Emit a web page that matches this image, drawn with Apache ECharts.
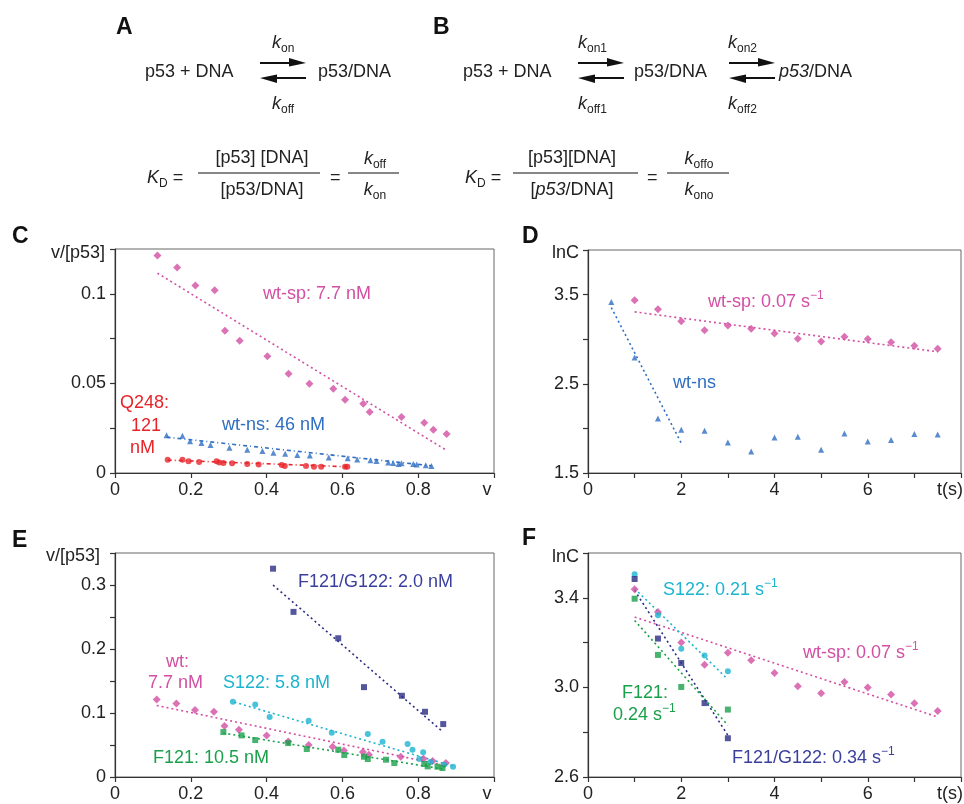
<!DOCTYPE html>
<html><head><meta charset="utf-8">
<script src="https://cdn.jsdelivr.net/npm/echarts@6/dist/echarts.min.js"></script>
<style>html,body{margin:0;padding:0;background:#fff}#c{width:964px;height:804px}</style>
</head><body><div id="c"></div>
<script>
// ---------- DATA ----------
// Panel C (Scatchard plot)
const wtSpC_x = [0.112,0.164,0.212,0.263,0.290,0.329,0.402,0.458,0.513,0.576,0.607,0.655,0.672,0.756,0.816,0.840,0.875];
const wtSpC_y = [0.1214,0.1147,0.1046,0.1020,0.0794,0.0738,0.0651,0.0554,0.0498,0.0470,0.0409,0.0387,0.0340,0.0312,0.0281,0.0242,0.0217];
const wtNsC_x = [0.136,0.178,0.198,0.228,0.252,0.302,0.349,0.389,0.418,0.449,0.481,0.514,0.564,0.614,0.639,0.674,0.690,0.721,0.734,0.748,0.756,0.787,0.796,0.820,0.835];
const wtNsC_y = [0.0210,0.0208,0.0177,0.0167,0.0156,0.0141,0.0130,0.0123,0.0113,0.0108,0.0100,0.0097,0.0087,0.0082,0.0076,0.0071,0.0067,0.0059,0.0056,0.0050,0.0054,0.0050,0.0048,0.0043,0.0039];
const q248C_x = [0.139,0.178,0.194,0.222,0.268,0.275,0.286,0.309,0.349,0.379,0.440,0.448,0.504,0.525,0.544,0.607,0.613];
const q248C_y = [0.0074,0.0074,0.0065,0.0061,0.0065,0.0058,0.0056,0.0054,0.0050,0.0048,0.0045,0.0039,0.0039,0.0035,0.0035,0.0035,0.0035];
const wtSpFitC = [[0.112,0.1115],[0.875,0.0126]];
const wtNsFitC = [[0.136,0.0200],[0.835,0.0040]];
const q248FitC = [[0.139,0.0072],[0.610,0.0035]];
// Panel D (dissociation, lnC vs t)
const wtSpD_t = [1,1.5,2,2.5,3,3.5,4,4.5,5,5.5,6,6.5,7,7.5];
const wtSpD_y = [3.437,3.336,3.202,3.101,3.154,3.116,3.064,3.005,2.975,3.027,3.001,2.967,2.926,2.893];
const wtNsD_t = [0.5,1,1.5,2,2.5,3,3.5,4,4.5,5,5.5,6,6.5,7,7.5];
const wtNsD_y = [3.418,2.796,2.111,1.984,1.973,1.843,1.742,1.899,1.906,1.761,1.943,1.854,1.869,1.936,1.932];
const wtSpFitD = [[1,3.306],[7.5,2.859]];
const wtNsFitD = [[0.5,3.355],[2,1.835]];
// Panel E (Scatchard, mutants)
const f121g122E_x = [0.417,0.471,0.589,0.657,0.757,0.818,0.866];
const f121g122E_y = [0.3255,0.258,0.2168,0.1404,0.1269,0.1019,0.0827];
const wtE_x = [0.110,0.162,0.211,0.261,0.289,0.327,0.400,0.457,0.511,0.574,0.604,0.654,0.670,0.754,0.814,0.838,0.873];
const wtE_y = [0.1212,0.1149,0.1045,0.1019,0.0796,0.0738,0.0650,0.0556,0.0499,0.0473,0.0416,0.0390,0.0348,0.0317,0.0286,0.0250,0.0218];
const s122E_x = [0.311,0.370,0.408,0.511,0.572,0.667,0.706,0.772,0.785,0.803,0.813,0.832,0.868,0.892];
const s122E_y = [0.1175,0.1134,0.0936,0.0879,0.0692,0.0671,0.0551,0.0515,0.0426,0.0281,0.0385,0.0234,0.0192,0.0161];
const f121E_x = [0.286,0.334,0.370,0.457,0.506,0.589,0.605,0.657,0.667,0.715,0.737,0.816,0.825,0.851,0.864];
const f121E_y = [0.0702,0.0650,0.0577,0.0530,0.0437,0.0426,0.0343,0.0317,0.0281,0.0270,0.0218,0.0203,0.0166,0.0161,0.0140];
const f121g122FitE = [[0.417,0.300],[0.866,0.070]];
const wtFitE = [[0.110,0.1118],[0.873,0.0177]];
const s122FitE = [[0.315,0.1170],[0.892,0.0170]];
const f121FitE = [[0.286,0.0686],[0.864,0.0125]];
// Panel F (dissociation, mutants)
const s122F_t = [1,1.5,2,2.5,3];
const s122F_y = [3.505,3.322,3.173,3.142,3.072];
const f121g122F_t = [1,1.5,2,2.5,3];
const f121g122F_y = [3.484,3.218,3.109,2.930,2.773];
const wtSpF_t = [1,1.5,2,2.5,3,3.5,4,4.5,5,5.5,6,6.5,7,7.5];
const wtSpF_y = [3.438,3.337,3.201,3.101,3.155,3.121,3.064,3.005,2.974,3.024,3.000,2.968,2.929,2.895];
const f121F_t = [1,1.5,2,3];
const f121F_y = [3.396,3.145,3.002,2.901];
const s122FitF = [[1,3.441],[2.95,3.046]];
const f121g122FitF = [[1,3.433],[3,2.786]];
const wtSpFitF = [[1,3.314],[7.5,2.868]];
const f121FitF = [[1,3.299],[3,2.831]];

// ---------- STYLE ----------
const FONT = '"Liberation Sans", Arial, Helvetica, sans-serif';
const MAG = '#d24fa3', BLUE = '#2f6ec2', RED = '#e8242b', NAVY = '#2b2d84', NAVYT = '#3a3f9e', CYAN = '#1cb4d0', GREEN = '#1aa04b';
const AX = '#333';

const zip = (a, b) => a.map((v, i) => [v, b[i]]);
const r3 = v => Math.round(v * 10000) / 10000;
const isMul = (v, s, off) => { const q = (v - off) / s; return Math.abs(q - Math.round(q)) < 1e-6; };

function xAxis(gi, min, max, interval, fmt) {
  return { type: 'value', gridIndex: gi, min, max, interval,
    axisLine: { show: true, onZero: false, lineStyle: { color: AX, width: 1.2 } },
    axisTick: { show: true, inside: false, length: 5, lineStyle: { color: AX, width: 1.2 } },
    axisLabel: { margin: 8, fontSize: 18, color: '#222', fontFamily: FONT, formatter: fmt, showMaxLabel: true, showMinLabel: true, hideOverlap: false },
    splitLine: { show: false } };
}
function yAxis(gi, min, max, interval, fmt) {
  return { type: 'value', gridIndex: gi, min, max, interval,
    axisLine: { show: true, onZero: false, lineStyle: { color: AX, width: 1.2 } },
    axisTick: { show: true, inside: false, length: 5, lineStyle: { color: AX, width: 1.2 } },
    axisLabel: { margin: 9, fontSize: 18, color: '#222', fontFamily: FONT, formatter: fmt, showMaxLabel: true, showMinLabel: true, hideOverlap: false },
    splitLine: { show: false } };
}
const fmtV = v => { v = r3(v); return (v < 0.99 && isMul(v, 0.2, 0)) ? String(v) : ''; };
const fmtT = v => { v = r3(v); return (v < 7.9 && isMul(v, 2, 0)) ? String(v) : ''; };

function scat(xi, data, symbol, size, color) {
  return { type: 'scatter', xAxisIndex: xi, yAxisIndex: xi, data, symbol, symbolSize: size,
    itemStyle: { color }, z: 3, silent: true };
}
function fit(xi, data, color, dash) {
  return { type: 'line', xAxisIndex: xi, yAxisIndex: xi, data, symbol: 'none', silent: true, z: 2,
    lineStyle: { color, width: 1.6, type: dash || [2, 3] } };
}

// ---------- GRAPHIC TEXT HELPERS ----------
const RICH = {
  n: { fontSize: 18, fontFamily: FONT, lineHeight: 24, verticalAlign: 'middle' },
  i: { fontSize: 18, fontFamily: FONT, fontStyle: 'italic', lineHeight: 24, verticalAlign: 'middle' },
  sub: { fontSize: 12, fontFamily: FONT, lineHeight: 14, verticalAlign: 'bottom' },
  sup: { fontSize: 12, fontFamily: FONT, lineHeight: 14, verticalAlign: 'top' }
};
function T(x, y, text, color, opts) {
  opts = opts || {};
  return { type: 'text', x, y, silent: true, z: 10,
    style: { text, fill: color || '#222', fontSize: opts.size || 18, fontFamily: FONT,
      fontWeight: opts.bold ? 'bold' : 'normal', fontStyle: opts.italic ? 'italic' : 'normal',
      textAlign: opts.align || 'left', textVerticalAlign: 'middle', verticalAlign: 'middle', rich: RICH } };
}
function L(x1, y1, x2, y2, w) {
  return { type: 'line', silent: true, shape: { x1, y1, x2, y2 }, style: { stroke: '#111', lineWidth: w || 1.2 } };
}
function arrowR(x1, x2, y) {
  return [L(x1, y, x2 - 8, y, 2), { type: 'polygon', silent: true, shape: { points: [[x2 - 17, y - 5], [x2, y], [x2 - 17, y + 3.5]] }, style: { fill: '#111' } }];
}
function arrowL(x1, x2, y) {
  return [L(x1 + 8, y, x2, y, 2), { type: 'polygon', silent: true, shape: { points: [[x1 + 17, y - 3.5], [x1, y], [x1 + 17, y + 5]] }, style: { fill: '#111' } }];
}

const graphics = [
  // Panel A
  T(116, 28, 'A', '#111', { bold: true, size: 23 }),
  T(145, 72, 'p53 + DNA'),
  ...arrowR(260, 306, 63), ...arrowL(260, 306, 78),
  T(272, 43, '{i|k}{sub|on}'),
  T(272, 104, '{i|k}{sub|off}'),
  T(318, 72, 'p53/DNA'),
  T(147, 178, '{i|K}{sub|D}{n| =}'),
  T(262, 158, '[p53] [DNA]', '#222', { align: 'center' }),
  L(198, 173, 320, 173, 1.2),
  T(262, 190, '[p53/DNA]', '#222', { align: 'center' }),
  T(330, 178, '='),
  T(375, 159, '{i|k}{sub|off}', '#222', { align: 'center' }),
  L(348, 173, 399, 173, 1.2),
  T(375, 190, '{i|k}{sub|on}', '#222', { align: 'center' }),
  // Panel B
  T(433, 28, 'B', '#111', { bold: true, size: 23 }),
  T(463, 72, 'p53 + DNA'),
  ...arrowR(578, 624, 63), ...arrowL(578, 624, 78),
  T(578, 43, '{i|k}{sub|on1}'),
  T(578, 104, '{i|k}{sub|off1}'),
  T(634, 72, 'p53/DNA'),
  ...arrowR(729, 775, 63), ...arrowL(729, 775, 78),
  T(728, 43, '{i|k}{sub|on2}'),
  T(728, 104, '{i|k}{sub|off2}'),
  T(779, 72, '{i|p53}{n|/DNA}'),
  T(465, 178, '{i|K}{sub|D}{n| =}'),
  T(572, 158, '[p53][DNA]', '#222', { align: 'center' }),
  L(513, 173, 638, 173, 1.2),
  T(572, 190, '{n|[}{i|p53}{n|/DNA]}', '#222', { align: 'center' }),
  T(647, 178, '='),
  T(699, 159, '{i|k}{sub|offo}', '#222', { align: 'center' }),
  L(667, 173, 729, 173, 1.2),
  T(699, 190, '{i|k}{sub|ono}', '#222', { align: 'center' }),
  // Panel C
  T(12, 237, 'C', '#111', { bold: true, size: 23 }),
  T(105, 253, 'v/[p53]', '#222', { align: 'right' }),
  T(487, 490, 'v', '#222', { align: 'center' }),
  T(263, 294, 'wt-sp: 7.7 nM', MAG),
  T(222, 425, 'wt-ns: 46 nM', BLUE),
  T(120, 403, 'Q248:', RED),
  T(131, 426, '121', RED),
  T(130, 448, 'nM', RED),
  // Panel D
  T(522, 237, 'D', '#111', { bold: true, size: 23 }),
  T(579, 253, 'lnC', '#222', { align: 'right' }),
  T(950, 490, 't(s)', '#222', { align: 'center' }),
  T(708, 302, '{n|wt-sp: 0.07 s}{sup|−1}', MAG),
  T(673, 383, 'wt-ns', BLUE),
  // Panel E
  T(12, 541, 'E', '#111', { bold: true, size: 23 }),
  T(100, 556, 'v/[p53]', '#222', { align: 'right' }),
  T(487, 794, 'v', '#222', { align: 'center' }),
  T(298, 582, 'F121/G122: 2.0 nM', NAVYT),
  T(166, 662, 'wt:', MAG),
  T(148, 683, '7.7 nM', MAG),
  T(223, 683, 'S122: 5.8 nM', CYAN),
  T(153, 758, 'F121: 10.5 nM', GREEN),
  // Panel F
  T(522, 539, 'F', '#111', { bold: true, size: 23 }),
  T(579, 557, 'lnC', '#222', { align: 'right' }),
  T(950, 794, 't(s)', '#222', { align: 'center' }),
  T(663, 590, '{n|S122: 0.21 s}{sup|−1}', CYAN),
  T(803, 653, '{n|wt-sp: 0.07 s}{sup|−1}', MAG),
  T(622, 693, 'F121:', GREEN),
  T(613, 715, '{n|0.24 s}{sup|−1}', GREEN),
  T(732, 758, '{n|F121/G122: 0.34 s}{sup|−1}', NAVYT)
];

const chart = echarts.init(document.getElementById('c'), null, { renderer: 'canvas' });
chart.setOption({
  animation: false,
  backgroundColor: '#fff',
  grid: [
    { left: 115, top: 249, width: 379, height: 224, show: true, borderColor: '#666', borderWidth: 1, backgroundColor: 'transparent' },
    { left: 588, top: 250, width: 377, height: 223, show: true, borderColor: '#666', borderWidth: 1, backgroundColor: 'transparent' },
    { left: 115, top: 553, width: 379, height: 224, show: true, borderColor: '#666', borderWidth: 1, backgroundColor: 'transparent' },
    { left: 588, top: 553, width: 377, height: 224, show: true, borderColor: '#666', borderWidth: 1, backgroundColor: 'transparent' }
  ],
  xAxis: [
    xAxis(0, 0, 1, 0.2, fmtV),
    xAxis(1, 0, 8, 1, fmtT),
    xAxis(2, 0, 1, 0.2, fmtV),
    xAxis(3, 0, 8, 1, fmtT)
  ],
  yAxis: [
    yAxis(0, 0, 0.125, 0.025, v => { v = r3(v); return (v < 0.12 && isMul(v, 0.05, 0)) ? String(v) : ''; }),
    yAxis(1, 1.5, 4, 0.5, v => { v = r3(v); return (v < 3.9 && isMul(v, 1, 1.5)) ? String(v) : ''; }),
    yAxis(2, 0, 0.35, 0.05, v => { v = r3(v); return (v < 0.34 && isMul(v, 0.1, 0)) ? String(v) : ''; }),
    yAxis(3, 2.6, 3.6, 0.2, v => { v = r3(v); return (v < 3.55 && isMul(v, 0.4, 2.6)) ? v.toFixed(1) : ''; })
  ],
  series: [
    // C
    fit(0, wtSpFitC, MAG, [2, 3]),
    fit(0, wtNsFitC, BLUE, [4, 3, 1, 3]),
    fit(0, q248FitC, RED, [4, 3, 1, 3]),
    scat(0, zip(wtSpC_x, wtSpC_y), 'diamond', 8, MAG),
    scat(0, zip(wtNsC_x, wtNsC_y), 'triangle', 6, BLUE),
    scat(0, zip(q248C_x, q248C_y), 'circle', 6, RED),
    // D
    fit(1, wtSpFitD, MAG, [2, 3]),
    fit(1, wtNsFitD, BLUE, [2, 3]),
    scat(1, zip(wtSpD_t, wtSpD_y), 'diamond', 8, MAG),
    scat(1, zip(wtNsD_t, wtNsD_y), 'triangle', 6, BLUE),
    // E
    fit(2, f121g122FitE, NAVY, [2, 3]),
    fit(2, wtFitE, MAG, [2, 3]),
    fit(2, s122FitE, CYAN, [2, 3]),
    fit(2, f121FitE, GREEN, [2, 3]),
    scat(2, zip(wtE_x, wtE_y), 'diamond', 8, MAG),
    scat(2, zip(s122E_x, s122E_y), 'circle', 6, CYAN),
    scat(2, zip(f121E_x, f121E_y), 'rect', 6, GREEN),
    scat(2, zip(f121g122E_x, f121g122E_y), 'rect', 6, NAVY),
    // F
    fit(3, wtSpFitF, MAG, [2, 3]),
    fit(3, s122FitF, CYAN, [2, 3]),
    fit(3, f121g122FitF, NAVY, [2, 3]),
    fit(3, f121FitF, GREEN, [2, 3]),
    scat(3, zip(wtSpF_t, wtSpF_y), 'diamond', 8, MAG),
    scat(3, zip(f121F_t, f121F_y), 'rect', 6, GREEN),
    scat(3, zip(s122F_t, s122F_y), 'circle', 6, CYAN),
    scat(3, zip(f121g122F_t, f121g122F_y), 'rect', 6, NAVY)
  ],
  graphic: { elements: graphics }
});
</script>
</body></html>
